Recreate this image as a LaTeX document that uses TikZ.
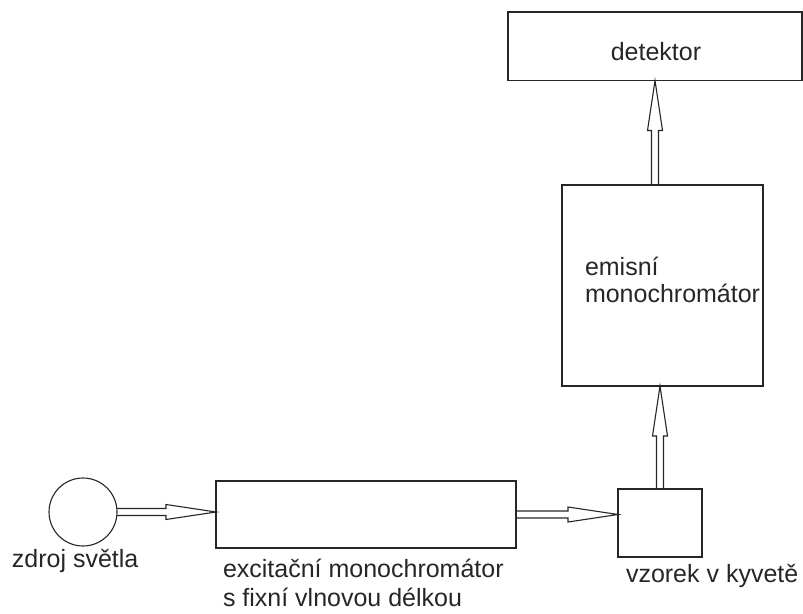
\documentclass[tikz,border=0pt]{standalone}
\usepackage{fontspec}
\setmainfont{Liberation Sans}
\usetikzlibrary{calc}
\begin{document}
\begin{tikzpicture}[x=1pt,y=-1pt,
  box/.style={draw=black!85, line width=1.1pt, inner sep=0pt, outer sep=0pt, rectangle},
  lbl/.style={inner sep=0pt, outer sep=0pt, text=black!85, font=\fontsize{25}{29}\selectfont},
  hollow/.style={draw=black!85, line width=1.1pt, line join=miter, to path={
    let \p1=($(\tikztotarget)!50pt!(\tikztostart)$) in
    ($(\tikztostart)!3.5pt!90:(\tikztotarget)$) -- ($(\p1)!3.5pt!90:(\tikztotarget)$)
    -- ($(\p1)!7.5pt!90:(\tikztotarget)$) -- (\tikztotarget)
    -- ($(\p1)!7.5pt!-90:(\tikztotarget)$) -- ($(\p1)!3.5pt!-90:(\tikztotarget)$)
    -- ($(\tikztostart)!3.5pt!-90:(\tikztotarget)$)}}]
  \useasboundingbox (0,0) rectangle (803,613);

  % blocks
  \node[circle, draw=black!85, line width=1.1pt, minimum size=68pt, inner sep=0pt, outer sep=0pt] (src) at (83,512) {};
  \node[box, minimum width=300pt, minimum height=67pt] (ex) at (366,514.5) {};
  \node[box, minimum width=84pt, minimum height=68pt] (samp) at (660,523) {};
  \node[box, minimum width=201pt, minimum height=201pt] (em) at (662.5,285.5) {};
  \node[box, minimum width=294pt, minimum height=68.5pt] (det) at (655,46.25) {};

  % labels
  \node[lbl, anchor=base west] (srcl) at (12,567) {zdroj světla};
  \node[lbl, anchor=base west] (exl1) at (223,577) {excitační monochromátor};
  \node[lbl, anchor=base west] (exl2) at (223,606) {s fixní vlnovou délkou};
  \node[lbl, anchor=base west] (sampl) at (626,582) {vzorek v kyvetě};
  \node[lbl, anchor=base west] (eml1) at (585,275) {emisní};
  \node[lbl, anchor=base west] (eml2) at (585,302) {monochromátor};
  \node[lbl, anchor=base] (detl) at (656,60) {detektor};

  % connectors
  \draw[hollow] (src.east) to (src.east -| ex.west);
  \draw[hollow] (ex.east) to (ex.east -| samp.west);
  \draw[hollow] (samp.north) to (samp.north |- em.south);
  \draw[hollow] (em.north -| det.south) to (det.south);
\end{tikzpicture}
\end{document}
